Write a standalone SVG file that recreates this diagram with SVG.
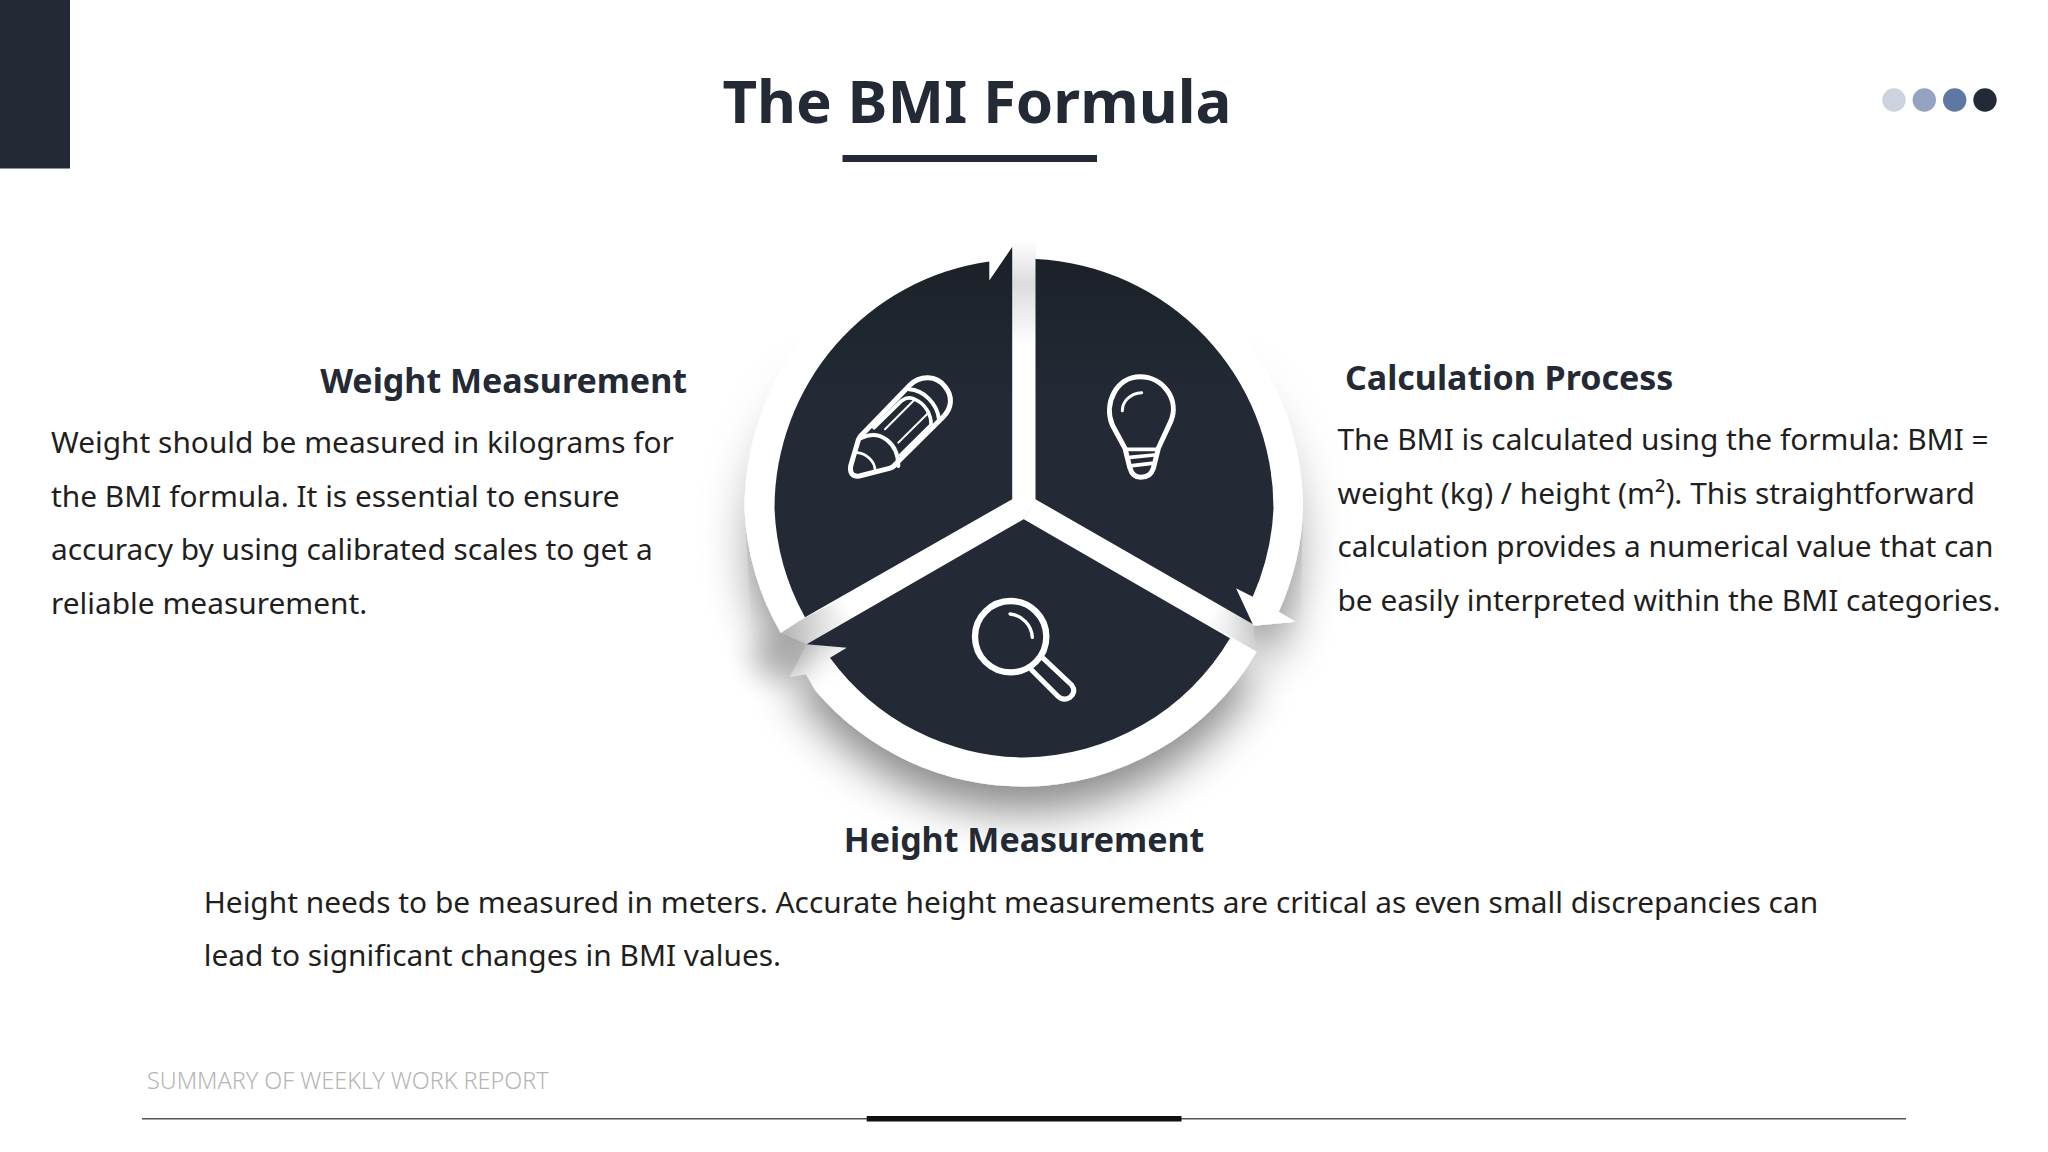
<svg xmlns="http://www.w3.org/2000/svg" width="2048" height="1152" viewBox="0 0 2048 1152">
<style>
text{font-family:"Noto Sans","Open Sans","Liberation Sans",sans-serif}
.h{font-weight:700;font-size:34px;fill:#232a35}
.b{font-size:29.870px;fill:#1f1f22}
.dark{fill:url(#dk)}
.w{fill:#fff;filter:url(#sh)}
.i{fill:none;stroke:#fff;stroke-linecap:round;stroke-linejoin:round;stroke-width:15}
</style>
<defs>
<linearGradient id="dk" gradientUnits="userSpaceOnUse" x1="0" y1="255" x2="0" y2="400"><stop offset="0" stop-color="#1c2129"/><stop offset="1" stop-color="#232a35"/></linearGradient>
<filter id="sh" filterUnits="userSpaceOnUse" x="640" y="150" width="780" height="760"><feDropShadow dx="0" dy="25" stdDeviation="22" flood-color="#000" flood-opacity=".46"/></filter>
<filter id="soft" filterUnits="userSpaceOnUse" x="700" y="580" width="180" height="170"><feGaussianBlur stdDeviation="13"/></filter>
<linearGradient id="fl" gradientUnits="userSpaceOnUse" x1="842" y1="598" x2="785" y2="632"><stop offset="0" stop-color="#fff"/><stop offset="1" stop-color="#fff" stop-opacity=".2"/></linearGradient>
<linearGradient id="fr" gradientUnits="userSpaceOnUse" x1="1212" y1="610" x2="1262" y2="640"><stop offset="0" stop-color="#fff"/><stop offset="1" stop-color="#fff" stop-opacity="0"/></linearGradient>
<linearGradient id="ft" gradientUnits="userSpaceOnUse" x1="0" y1="240" x2="0" y2="345"><stop offset="0" stop-color="#fff"/><stop offset=".42" stop-color="#dcdcdc"/><stop offset="1" stop-color="#fff"/></linearGradient>
<linearGradient id="veil" gradientUnits="userSpaceOnUse" x1="0" y1="330" x2="0" y2="640"><stop offset="0" stop-color="#fff"/><stop offset="1" stop-color="#fff" stop-opacity="0"/></linearGradient>
</defs>
<rect width="2048" height="1152" fill="#fff"/>
<rect id="corner" x="0" y="0" width="70" height="168.500" fill="#232a35"/>
<g id="title"><text x="977" y="123" text-anchor="middle" font-weight="700" fill="#232a35" style="font-size:60px">The BMI Formula</text><rect x="842.500" y="155" width="254.500" height="7" fill="#232a35"/></g>
<g id="dots"><circle cx="1894" cy="100" r="11.700" fill="#cdd3de"/><circle cx="1924.300" cy="100" r="11.700" fill="#94a3bf"/><circle cx="1954.700" cy="100" r="11.700" fill="#5f78a3"/><circle cx="1985" cy="100" r="11.700" fill="#232a35"/></g>
<g id="cycle">
<path class="w" d="M1024 229.500A279.500 279.500 0 0 1 1303 508.500A270 270 0 0 1 1278.700 611.700L1295 621.700L1254 625.700L1252.700 624L1236 588L1036 499L1024 508Z"/>
<path class="w" d="M1256.700 651.700A272 272 0 0 1 1024 786.500A272 272 0 0 1 815 690L806 674L790 677L806.700 644.300L1023.700 519.300Z"/>
<ellipse cx="780" cy="658" rx="30" ry="24" fill="#000" opacity=".2" filter="url(#soft)"/>
<path class="w" d="M780.700 632.700A272 272 0 0 1 744.500 508.500A279.500 279.500 0 0 1 1024 229.500L1024 508L805 617.300Z"/>
<path fill="#fff" d="M960 236.500A279.500 279.500 0 0 1 1088 236.500V300H960Z"/>
<path fill="url(#veil)" fill-rule="evenodd" d="M680 200H1368V640H1300L1303 508.500A279.500 279.500 0 0 0 744.500 508.500L752 640H680Z"/>
<path fill="url(#fl)" d="M1012.200 499.200L1036 499L1023.700 519.300L806.700 644.300L780.700 632.700L805 617.300Z"/>
<path fill="url(#fr)" d="M1035.500 499.200L1023.700 519.300L1230 638.300L1256.700 651.700L1253 624Z"/>
<rect x="1012" y="240" width="24" height="105" fill="url(#ft)"/>
<rect x="1012" y="345" width="24" height="156" fill="#fff"/>
</g>
<g id="node-weight">
<path class="dark" d="M1012.200 499.200V247L989.300 280.500V261.500A249.500 249.500 0 0 0 774.500 508.500A244 244 0 0 0 805 617.300Z"/>
<g transform="translate(830 360) scale(.3333)">
<path class="i" d="M92 228L240 75C270 45 320 45 345 80C370 110 365 145 340 170L197 312Q190 322 178 325L88 348Q58 352 62 318L85 240Q88 232 92 228Z"/>
<path class="i" style="stroke-width:12" d="M237 88C280 90 322 130 327 178"/>
<path class="i" style="stroke-width:11" d="M132 203L215 122Q235 108 255 118C285 130 305 165 303 195L212 285"/>
<path class="i" style="stroke-width:6" d="M165 208L255 118M205 248L297 157"/>
<path class="i" style="stroke-width:12" d="M92 235C150 205 205 250 205 318"/>
<path class="i" style="stroke-width:8" d="M80 278C110 280 135 305 135 330"/>
</g>
<text class="h" x="687" y="393" text-anchor="end">Weight Measurement</text>
<text class="b" x="51" y="453">Weight should be measured in kilograms for</text>
<text class="b" x="51" y="506.500">the BMI formula. It is essential to ensure</text>
<text class="b" x="51" y="560">accuracy by using calibrated scales to get a</text>
<text class="b" x="51" y="613.500">reliable measurement.</text>
</g>
<g id="node-calculation">
<path class="dark" d="M1035.500 499.200V259A249.500 249.500 0 0 1 1273.500 508.500A244 244 0 0 1 1252.700 596.700L1236 588.300L1252.700 624Z"/>
<g transform="translate(1080 360) scale(.3333)">
<path class="i" d="M135 265L97 195C70 130 110 50 180 50C250 50 300 120 272 185L235 265L220 325Q212 352 182 352Q158 352 150 325Z"/>
<path class="i" style="stroke-width:11" d="M138 268H235M150 292L222 285M157 317L215 310"/>
<path class="i" style="stroke-width:9" d="M127 152C127 125 150 100 185 98"/>
</g>
<text class="h" x="1345" y="390">Calculation Process</text>
<text class="b" x="1337.500" y="450">The BMI is calculated using the formula: BMI =</text>
<text class="b" x="1337.500" y="503.500">weight (kg) / height (m²). This straightforward</text>
<text class="b" x="1337.500" y="557">calculation provides a numerical value that can</text>
<text class="b" x="1337.500" y="610.500">be easily interpreted within the BMI categories.</text>
</g>
<g id="node-height">
<path class="dark" d="M1023.700 519.300L1230 638.300A243 243 0 0 1 1024 757.500A243 243 0 0 1 830 657.700L846.700 647.700L806.700 644.300Z"/>
<g transform="translate(960 590) scale(.3333)">
<circle class="i" style="stroke-width:19" cx="152" cy="140" r="107"/>
<path class="i" d="M250 205L335 285Q350 305 330 322Q310 335 293 318L215 240"/>
<path class="i" style="stroke-width:10" d="M150 72C185 75 215 105 217 142"/>
</g>
<text class="h" x="1024" y="851.500" text-anchor="middle">Height Measurement</text>
<text class="b" x="203.700" y="912.500">Height needs to be measured in meters. Accurate height measurements are critical as even small discrepancies can</text>
<text class="b" x="203.700" y="966">lead to significant changes in BMI values.</text>
</g>
<g id="footer">
<text x="147" y="1089" font-weight="300" fill="#b5b5b5" style="font-size:23.400px">SUMMARY OF WEEKLY WORK REPORT</text>
<rect x="142" y="1118" width="1764" height="1.500" fill="#555"/>
<rect x="866.700" y="1116" width="314.800" height="5.500" fill="#111"/>
</g>
</svg>
